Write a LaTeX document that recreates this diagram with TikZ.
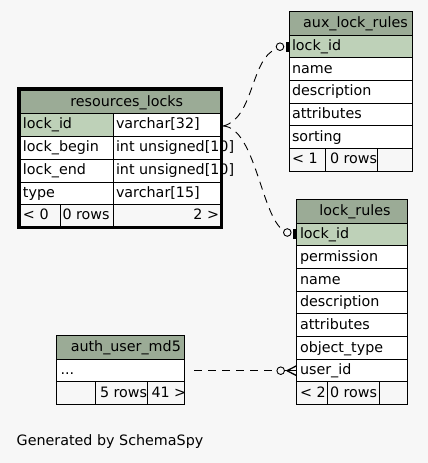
\documentclass[tikz,border=0pt]{standalone}
\usepackage{fontspec}
\setmainfont{DejaVu Sans}
\definecolor{hdr}{HTML}{9BAB96}
\definecolor{pk}{HTML}{BED1B8}
\definecolor{bgc}{HTML}{F7F7F7}
\tikzset{
  cellbox/.style={draw=black,line width=0.8pt,anchor=north west,inner sep=0pt,outer sep=0pt},
  txt/.style={inner sep=0pt,outer sep=0pt},
  edge/.style={line width=0.9pt,dash pattern=on 8pt off 6pt},
  odot/.style={circle,draw=black,line width=0.9pt,fill=bgc,minimum size=7.6pt,inner sep=0pt},
  teebar/.style={fill=black,minimum width=3pt,minimum height=10pt,inner sep=0pt}
}
\newcommand\mkcell[6]{\node[cellbox,fill=#6,minimum width={#4-#2},minimum height={#5-#3}] (#1) at (#2,#3) {};}
\newcommand\tw[4]{\node[txt,anchor=base west] (#1) at (#2,#3) {#4};}
\newcommand\tc[4]{\node[txt,anchor=base] (#1) at (#2,#3) {#4};}
\newcommand\te[4]{\node[txt,anchor=base east] (#1) at (#2,#3) {#4};}
\begin{document}
\begin{tikzpicture}[x=1pt,y=-1pt,font=\fontsize{14.3}{16}\selectfont]
\fill[bgc] (0,0) rectangle (428,463);
\useasboundingbox (0,0) rectangle (428,463);

% ---------- resources_locks ----------
\mkcell{rl-h}{20}{90}{220}{113}{hdr}
\mkcell{rl-1a}{20}{113}{113}{136}{pk}
\mkcell{rl-1b}{113}{113}{220}{136}{white}
\mkcell{rl-2a}{20}{136}{113}{159}{white}
\mkcell{rl-2b}{113}{136}{220}{159}{white}
\mkcell{rl-3a}{20}{159}{113}{182}{white}
\mkcell{rl-3b}{113}{159}{220}{182}{white}
\mkcell{rl-4a}{20}{182}{113}{204}{white}
\mkcell{rl-4b}{113}{182}{220}{204}{white}
\mkcell{rl-fa}{20}{204}{60}{227}{bgc}
\mkcell{rl-fb}{60}{204}{113}{227}{bgc}
\mkcell{rl-fc}{113}{204}{220}{227}{bgc}
\node[draw=black,line width=3.3pt,anchor=north west,inner sep=0pt,outer sep=0pt,minimum width=203.4pt,minimum height=139.5pt] (rl) at (18.3,88.3) {};
\tc{rl-ht}{126.7}{106}{resources\_locks}
\tw{rl-1at}{23}{128.5}{lock\_id}
\tw{rl-1bt}{116}{128.5}{varchar[32]}
\tw{rl-2at}{23}{151.5}{lock\_begin}
\tw{rl-2bt}{116}{151.5}{int unsigned[10]}
\tw{rl-3at}{23}{174.5}{lock\_end}
\tw{rl-3bt}{116}{174.5}{int unsigned[10]}
\tw{rl-4at}{23}{197.5}{type}
\tw{rl-4bt}{116}{197.5}{varchar[15]}
\tw{rl-fat}{23}{219}{< 0}
\tw{rl-fbt}{62.5}{219}{0 rows}
\te{rl-fct}{219}{219}{2 >}

% ---------- aux_lock_rules ----------
\mkcell{al-h}{289.3}{11.7}{412.3}{35}{hdr}
\mkcell{al-1}{289.3}{35}{412.3}{57.5}{pk}
\mkcell{al-2}{289.3}{57.5}{412.3}{80}{white}
\mkcell{al-3}{289.3}{80}{412.3}{103}{white}
\mkcell{al-4}{289.3}{103}{412.3}{125.5}{white}
\mkcell{al-5}{289.3}{125.5}{412.3}{148.3}{white}
\mkcell{al-fa}{289.3}{148.3}{325.3}{171}{bgc}
\mkcell{al-fb}{325.3}{148.3}{377.3}{171}{bgc}
\mkcell{al-fc}{377.3}{148.3}{412.3}{171}{bgc}
\tc{al-ht}{355.5}{27.2}{aux\_lock\_rules}
\tw{al-1t}{292}{50.5}{lock\_id}
\tw{al-2t}{292}{73}{name}
\tw{al-3t}{292}{95.5}{description}
\tw{al-4t}{292}{118.5}{attributes}
\tw{al-5t}{292}{141}{sorting}
\tw{al-fat}{292}{163.5}{< 1}
\tw{al-fbt}{330}{163.5}{0 rows}

% ---------- lock_rules ----------
\mkcell{lr-h}{296.7}{199.3}{407.3}{223.3}{hdr}
\mkcell{lr-1}{296.7}{223.3}{407.3}{245.3}{pk}
\mkcell{lr-2}{296.7}{245.3}{407.3}{268.3}{white}
\mkcell{lr-3}{296.7}{268.3}{407.3}{291}{white}
\mkcell{lr-4}{296.7}{291}{407.3}{313.3}{white}
\mkcell{lr-5}{296.7}{313.3}{407.3}{336}{white}
\mkcell{lr-6}{296.7}{336}{407.3}{359}{white}
\mkcell{lr-7}{296.7}{359}{407.3}{381.7}{white}
\mkcell{lr-fa}{296.7}{381.7}{327.3}{404}{bgc}
\mkcell{lr-fb}{327.3}{381.7}{379.3}{404}{bgc}
\mkcell{lr-fc}{379.3}{381.7}{407.3}{404}{bgc}
\tc{lr-ht}{355}{215}{lock\_rules}
\tw{lr-1t}{300}{238.5}{lock\_id}
\tw{lr-2t}{300}{261}{permission}
\tw{lr-3t}{300}{284}{name}
\tw{lr-4t}{300}{306.5}{description}
\tw{lr-5t}{300}{329}{attributes}
\tw{lr-6t}{300}{352}{object\_type}
\tw{lr-7t}{300}{374.5}{user\_id}
\tw{lr-fat}{300}{397}{< 2}
\tw{lr-fbt}{330}{397}{0 rows}

% ---------- auth_user_md5 ----------
\mkcell{au-h}{56.7}{335.7}{184.3}{359.3}{hdr}
\mkcell{au-1}{56.7}{359.3}{184.3}{381}{white}
\mkcell{au-fa}{56.7}{381}{95.7}{404}{bgc}
\mkcell{au-fb}{95.7}{381}{147.3}{404}{bgc}
\mkcell{au-fc}{147.3}{381}{184.3}{404}{bgc}
\tc{au-ht}{125.8}{351.5}{auth\_user\_md5}
\tw{au-1t}{60.5}{374}{...}
\tw{au-fbt}{100}{397}{5 rows}
\tw{au-fct}{151.5}{397}{41 >}

% ---------- markers ----------
\node[odot] (c1) at (280,46.7) {};
\node[teebar] (b1) at (287,46.5) {};
\node[odot] (c2) at (287.3,232.5) {};
\node[teebar] (b2) at (294.5,234) {};
\node[odot] (c3) at (280.7,370.7) {};
\coordinate (k3) at (287,370.7);

% ---------- connectors ----------
\draw[edge] ([xshift=3.3pt,yshift=-1.5pt]rl-1b.east) .. controls +(31,-8) and +(-26,10) .. (c1.210);
\draw[edge] ([xshift=3.3pt,yshift=-1.5pt]rl-1b.east) .. controls +(32,2) and +(-22,-13) .. (c2.150);
\draw[edge] ([xshift=10pt]au-1.east |- c3.west) -- (c3.west);
\draw[line width=0.9pt] (c3.east) -- (k3);
\draw[line width=1.3pt] (k3) -- (lr-7.west |- k3);
\draw[line width=1.3pt] (k3) -- ([yshift=5pt]lr-7.west |- k3);
\draw[line width=1.3pt] (k3) -- ([yshift=-5pt]lr-7.west |- k3);

\tw{gen}{16.7}{445}{Generated by SchemaSpy}
\end{tikzpicture}
\end{document}
